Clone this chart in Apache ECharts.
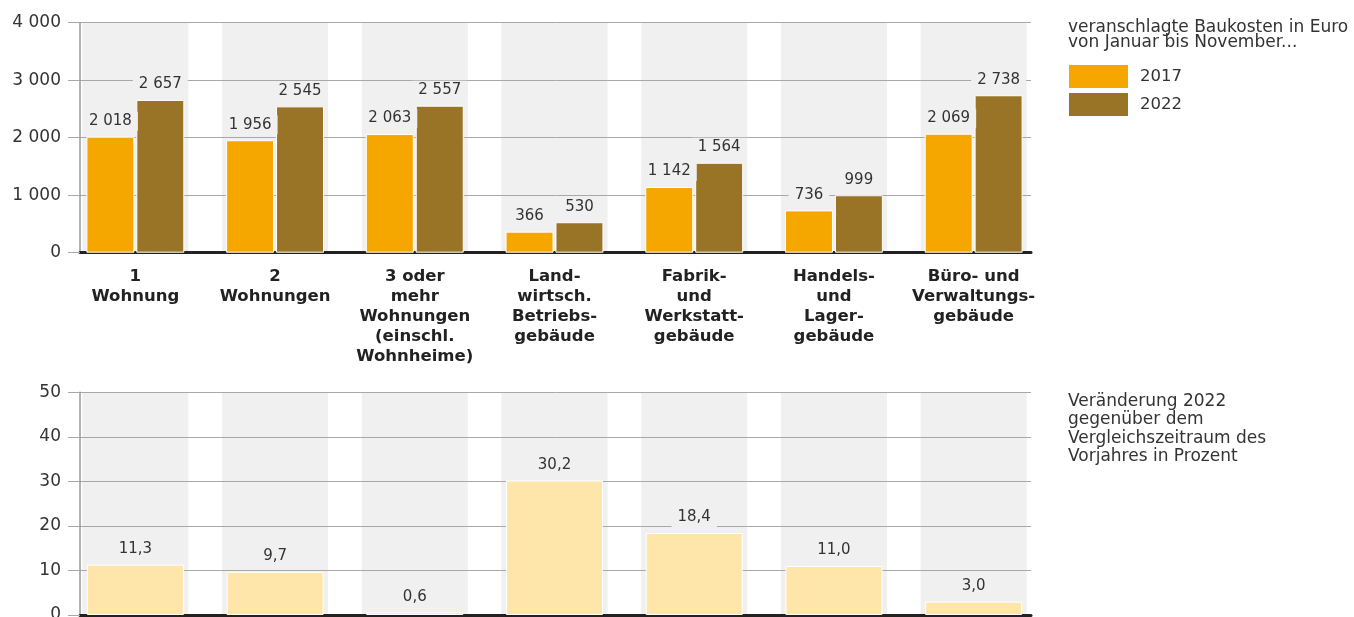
<!DOCTYPE html>
<html>
<head>
<meta charset="utf-8">
<script src="https://cdn.jsdelivr.net/npm/echarts@6/dist/echarts.min.js"></script>
<style>
  html, body { margin: 0; padding: 0; background: #fff; }
  #chart { width: 1354px; height: 617px; }
</style>
</head>
<body>
<div id="chart"></div>
<script>
const categories = [
  '1\nWohnung',
  '2\nWohnungen',
  '3 oder\nmehr\nWohnungen\n(einschl.\nWohnheime)',
  'Land-\nwirtsch.\nBetriebs-\ngebäude',
  'Fabrik-\nund\nWerkstatt-\ngebäude',
  'Handels-\nund\nLager-\ngebäude',
  'Büro- und\nVerwaltungs-\ngebäude'
];
const costs2017 = [2018, 1956, 2063, 366, 1142, 736, 2069];
const costs2022 = [2657, 2545, 2557, 530, 1564, 999, 2738];
const changePct = [11.3, 9.7, 0.6, 30.2, 18.4, 11.0, 3.0];
const seriesNames = ['2017', '2022'];
const costAxis = { min: 0, max: 4000, interval: 1000 };
const pctAxis = { min: 0, max: 50, interval: 10 };
const legendTitle = 'veranschlagte Baukosten in Euro\nvon Januar bis November...';
const pctTitle = 'Veränderung 2022\ngegenüber dem\nVergleichszeitraum des\nVorjahres in Prozent';

const FONT = 'DejaVu Sans';
const TXT = '#333333';
const BAND = '#f0f0f0';
const GRID = '#a8a8a8';

function thousands(v) { return String(v).replace(/\B(?=(\d{3})+(?!\d))/g, ' '); }
function decComma(v) { return Number(v).toFixed(1).replace('.', ','); }

const chart = echarts.init(document.getElementById('chart'), null, { renderer: 'canvas' });

const gridBase = { outerBoundsMode: 'none', containLabel: false };
const topGridBars = Object.assign({ left: 65.5, right: 310.5, top: 22.7, bottom: 364.3 }, gridBase);
const topGridAxes = Object.assign({ left: 80, right: 323, top: 22.7, bottom: 364.3 }, gridBase);
const botGridBars = Object.assign({ left: 65.5, right: 310.5, top: 392.3, bottom: 2 }, gridBase);
const botGridAxes = Object.assign({ left: 80, right: 323, top: 392.3, bottom: 2 }, gridBase);

function valueYAxis(gridIndex, ax, fmt) {
  return {
    type: 'value', gridIndex: gridIndex, min: ax.min, max: ax.max, interval: ax.interval, z: 1,
    axisLine: { show: true, lineStyle: { color: '#999999', width: 1.5 } },
    axisTick: { show: true, length: 12, lineStyle: { color: GRID } },
    splitLine: { show: true, lineStyle: { color: GRID, width: 1 } },
    axisLabel: { formatter: fmt, fontSize: 17, color: TXT, fontFamily: FONT, margin: 19 }
  };
}
function hiddenYAxis(gridIndex, ax) {
  return { type: 'value', gridIndex: gridIndex, min: ax.min, max: ax.max, show: false };
}
function baseXAxis(gridIndex) {
  return {
    type: 'value', gridIndex: gridIndex, min: 0, max: 1, z: 1,
    axisLine: { show: true, lineStyle: { color: '#222222', width: 3 } },
    axisTick: { show: false }, axisLabel: { show: false }, splitLine: { show: false }
  };
}
const valLabel = (fmt) => ({
  show: true, position: 'top', distance: 6, formatter: (p) => fmt(p.value),
  fontSize: 15, color: TXT, fontFamily: FONT,
  backgroundColor: BAND, padding: [2, 6]
});

const option = {
  animation: false,
  backgroundColor: '#ffffff',
  textStyle: { fontFamily: FONT },
  title: [
    { text: legendTitle, left: 1068, top: 20.5, padding: 0,
      textStyle: { fontSize: 17, lineHeight: 15, fontWeight: 'normal', color: TXT, fontFamily: FONT } },
    { text: pctTitle, left: 1068, top: 392, padding: 0,
      textStyle: { fontSize: 17, lineHeight: 18.5, fontWeight: 'normal', color: TXT, fontFamily: FONT } }
  ],
  legend: {
    data: seriesNames, orient: 'vertical', left: 1067, top: 63,
    icon: 'rect', itemWidth: 61, itemHeight: 25, itemGap: 1, padding: 0,
    selectedMode: false,
    textStyle: { fontSize: 16.5, color: TXT, fontFamily: FONT, padding: [0, 0, 0, 6] }
  },
  grid: [topGridBars, topGridAxes, botGridBars, botGridAxes],
  xAxis: [
    { type: 'category', gridIndex: 0, data: categories,
      axisLine: { show: false }, axisTick: { show: false },
      axisLabel: { interval: 0, fontWeight: 'bold', fontSize: 16.5, lineHeight: 20, color: '#222222', fontFamily: FONT, margin: 14 } },
    { type: 'category', gridIndex: 0, data: categories, show: false },
    baseXAxis(1),
    { type: 'category', gridIndex: 2, data: categories, show: false },
    { type: 'category', gridIndex: 2, data: categories, show: false },
    baseXAxis(3)
  ],
  yAxis: [
    hiddenYAxis(0, costAxis),
    valueYAxis(1, costAxis, (v) => thousands(v)),
    hiddenYAxis(2, pctAxis),
    valueYAxis(3, pctAxis, (v) => String(v))
  ],
  series: [
    { name: 'bandTop', type: 'bar', xAxisIndex: 1, yAxisIndex: 0, z: 0, silent: true,
      data: categories.map(() => costAxis.max), barWidth: 106,
      itemStyle: { color: BAND }, emphasis: { disabled: true } },
    { name: seriesNames[0], type: 'bar', xAxisIndex: 0, yAxisIndex: 0, z: 2,
      data: costs2017, barWidth: 48, barGap: '4%',
      itemStyle: { color: '#f5a700', borderColor: '#ffffff', borderWidth: 1 },
      label: valLabel(thousands) },
    { name: seriesNames[1], type: 'bar', xAxisIndex: 0, yAxisIndex: 0, z: 2,
      data: costs2022, barWidth: 48, barGap: '4%',
      itemStyle: { color: '#9a7426', borderColor: '#ffffff', borderWidth: 1 },
      label: valLabel(thousands) },
    { name: 'bandBot', type: 'bar', xAxisIndex: 4, yAxisIndex: 2, z: 0, silent: true,
      data: categories.map(() => pctAxis.max), barWidth: 106,
      itemStyle: { color: BAND }, emphasis: { disabled: true } },
    { name: 'Veränderung', type: 'bar', xAxisIndex: 3, yAxisIndex: 2, z: 2,
      data: changePct, barWidth: 97,
      itemStyle: { color: '#fee5a9', borderColor: '#ffffff', borderWidth: 1 },
      label: valLabel(decComma) }
  ]
};
chart.setOption(option);
</script>
</body>
</html>
